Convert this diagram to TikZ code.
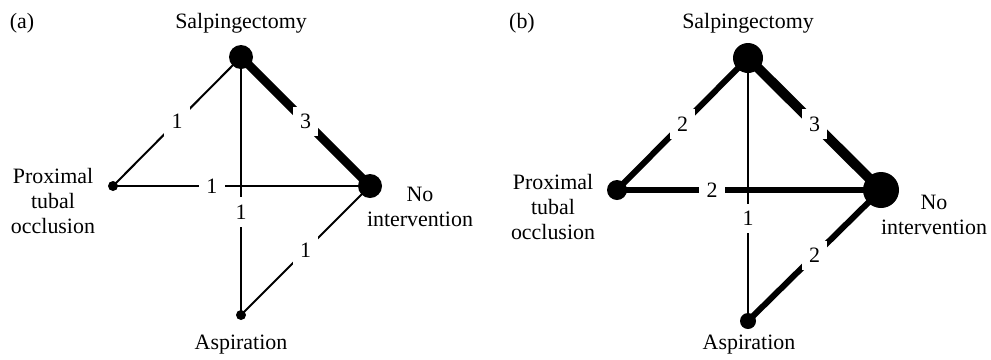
\documentclass[tikz,border=0pt]{standalone}
\usepackage{fontspec}
\setmainfont{Liberation Serif}
\usetikzlibrary{backgrounds}
\begin{document}
\begin{tikzpicture}[x=1bp,y=-1bp,
  txt/.style={font=\fontsize{22}{25.5}\selectfont, inner sep=0pt, align=center},
  dot/.style={circle, fill=black, inner sep=0pt, minimum size=#1},
  lab/.style={fill=white, inner sep=7.5bp, font=\fontsize{22}{25}\selectfont},
  wone/.style={line width=2bp},
  wtwo/.style={line width=6bp},
  wthreea/.style={line width=8.5bp},
  wthreeb/.style={line width=10bp}]
\useasboundingbox (0,0) rectangle (991,359);

% ---------- panel (a) ----------
\node[txt] (ta) at (22,23) {(a)};
\node[txt] (lsa) at (241,23) {Salpingectomy};
\node[txt] (lpa) at (53,201) {Proximal\\tubal\\occlusion};
\node[txt] (lna) at (420,207) {No\\intervention};
\node[txt] (laa) at (241,345) {Aspiration};

\node[dot=24bp] (sa) at (241,57) {};
\node[dot=10bp] (pa) at (113,186) {};
\node[dot=24bp] (na) at (370,186) {};
\node[dot=10bp] (aa) at (241,315) {};

\begin{scope}[on background layer]
  \draw[wone] (pa.center) -- node[lab, pos=0.385] {1} (na.center);
  \draw[wone] (sa.center) -- node[lab, pos=0.6] {1} (aa.center);
  \draw[wone] (sa.center) -- node[lab, pos=0.5] {1} (pa.center);
  \draw[wthreea] (sa.center) -- node[lab, pos=0.5] {3} (na.center);
  \draw[wone] (aa.center) -- node[lab, pos=0.5] {1} (na.center);
\end{scope}

% ---------- panel (b) ----------
\node[txt] (tb) at (522,23) {(b)};
\node[txt] (lsb) at (748,23) {Salpingectomy};
\node[txt] (lpb) at (553,207) {Proximal\\tubal\\occlusion};
\node[txt] (lnb) at (934,215) {No\\intervention};
\node[txt] (lab) at (749,345) {Aspiration};

\node[dot=30bp] (sb) at (748,58) {};
\node[dot=20bp] (pb) at (617,190) {};
\node[dot=36bp] (nb) at (881,190) {};
\node[dot=16bp] (ab) at (748,321) {};

\begin{scope}[on background layer]
  \draw[wtwo] (pb.center) -- node[lab, pos=0.36] {2} (nb.center);
  \draw[wone] (sb.center) -- node[lab, pos=0.61] {1} (ab.center);
  \draw[wtwo] (sb.center) -- node[lab, pos=0.5] {2} (pb.center);
  \draw[wthreeb] (sb.center) -- node[lab, pos=0.5] {3} (nb.center);
  \draw[wtwo] (ab.center) -- node[lab, pos=0.5] {2} (nb.center);
\end{scope}
\end{tikzpicture}
\end{document}
